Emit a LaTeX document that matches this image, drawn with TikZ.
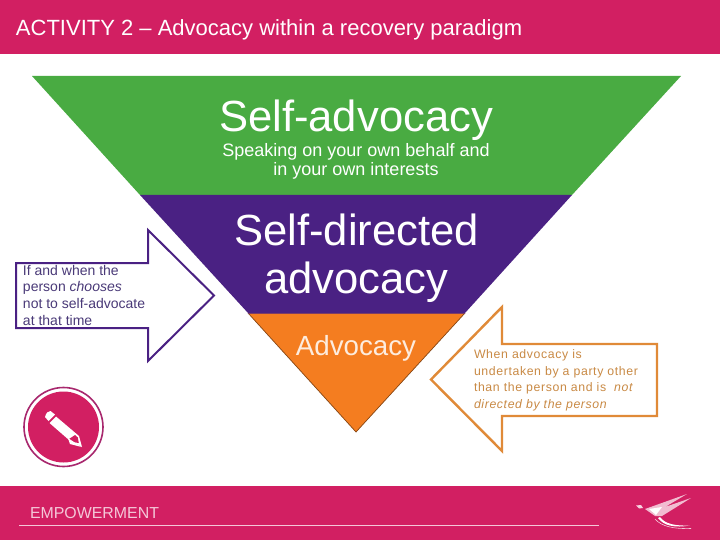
\documentclass[tikz,border=0pt]{standalone}
\usepackage{fontspec}
\setmainfont{Liberation Sans}
\newfontfamily\spaced[LetterSpace=5]{Liberation Sans}
\definecolor{bar}{HTML}{D21F62}
\definecolor{grn}{HTML}{49AB42}
\definecolor{pur}{HTML}{4A2183}
\definecolor{org}{HTML}{F47D20}
\definecolor{orgline}{HTML}{E08A38}
\definecolor{orgtxt}{HTML}{C98A45}
\definecolor{purtxt}{HTML}{4A3A78}
\definecolor{ring}{HTML}{A8286E}
\tikzset{
 txt/.style={inner sep=0pt,outer sep=0pt,align=left,anchor=north west},
 ctr/.style={inner sep=0pt,outer sep=0pt,align=center,anchor=center,text=white},
 fs/.style 2 args={font=\fontsize{#1}{#2}\selectfont}
}
\begin{document}
\begin{tikzpicture}[x=1pt,y=-1pt]
\useasboundingbox (0,0) rectangle (720,540);
\fill[white] (0,0) rectangle (720,540);
\fill[bar] (0,0) rectangle (720,54);
\fill[bar] (0,486) rectangle (720,540);
\node[txt,text=white,anchor=west,fs={22}{24}] (title) at (16,29.5) {ACTIVITY 2 – Advocacy within a recovery paradigm};
% funnel
\fill[grn] (32,76) -- (681,76) -- (572,195) -- (140,195) -- cycle;
\fill[pur] (140,195) -- (572,195) -- (465,313) -- (248,313) -- cycle;
\fill[org] (248,313) -- (465,313) -- (356,432) -- cycle;
\draw[color=black!45!org,line width=0.7pt] (465,313) -- (356,432) -- (248,313);
\draw[color=pur!70!org,line width=0.7pt] (248,313.3) -- (465,313.3);
\node[ctr,fs={43.6}{48}] (sa) at (356,120.5) {Self-advocacy};
\node[ctr,fs={18}{19}] (sb) at (356,161) {Speaking on your own behalf and\\in your own interests};
\node[ctr,fs={43.6}{48}] (sd) at (356.5,258) {Self-directed\\advocacy};
\node[ctr,fs={27.7}{30},text=white!85!org] (ad) at (356,348) {Advocacy};
% left arrow
\draw[pur,line width=2pt,miter limit=10] (16,263) -- (148,263) -- (148,230) -- (214,295.5) -- (148,361) -- (148,328) -- (16,328) -- cycle;
\node[txt,text=purtxt,fs={14}{16.7}] (lt) at (23,265) {If and when the\\person \textit{chooses}\\not to self-advocate\\at that time};
% right arrow
\draw[orgline,line width=2.4pt,miter limit=10] (657,344) -- (502,344) -- (502,307) -- (431,379.5) -- (502,451) -- (502,416) -- (657,416) -- cycle;
\node[txt,text=orgtxt,font=\spaced\fontsize{12.3}{16.5}\selectfont] (rt) at (474,350) {When advocacy is\\undertaken by a party other\\than the person and is~ \textit{not}\\\textit{directed by the person}};
% icon
\draw[ring,line width=1.6pt] (63.5,427) circle (39.5);
\fill[bar] (63.5,427) circle (35.5);
\fill[white] (45,417) .. controls (46,413) and (48,411) .. (50.5,411) -- (55,414.5) -- (48.5,421) -- cycle;
\fill[white] (49.5,423) -- (56,416.5) -- (79,436) -- (82,447) -- (69,440) -- cycle;
\fill[bar] (69,439) -- (75,435) -- (77.8,437.5) -- (78.8,443) -- (72,442) -- cycle;
\fill[white] (68,438) -- (81.5,447) -- (70,444) -- cycle;
% footer
\node[txt,anchor=west,text=white!75!bar,fs={15.9}{18}] (emp) at (30,513) {EMPOWERMENT};
\draw[white!75!bar,line width=0.8pt] (19,525) -- (599,525);
% logo
\fill[white!80!bar] (636,505.5) -- (641,505) -- (643,508) -- (639,508.5) -- cycle;
\fill[white!70!bar] (645,509) -- (687,494) -- (665,507) -- (691,498) -- (662,516) -- (655,516) -- cycle;
\fill[white] (649,509) -- (662,507) -- (656,515) -- cycle;
\fill[white] (660,517) .. controls (665,524) and (675,526) .. (690,525.5) .. controls (675,528) and (664,526) .. (658,518) -- cycle;
\draw[white!75!bar,line width=0.6pt] (655,519) .. controls (662,527) and (675,529) .. (691,528.5);
\end{tikzpicture}
\end{document}
